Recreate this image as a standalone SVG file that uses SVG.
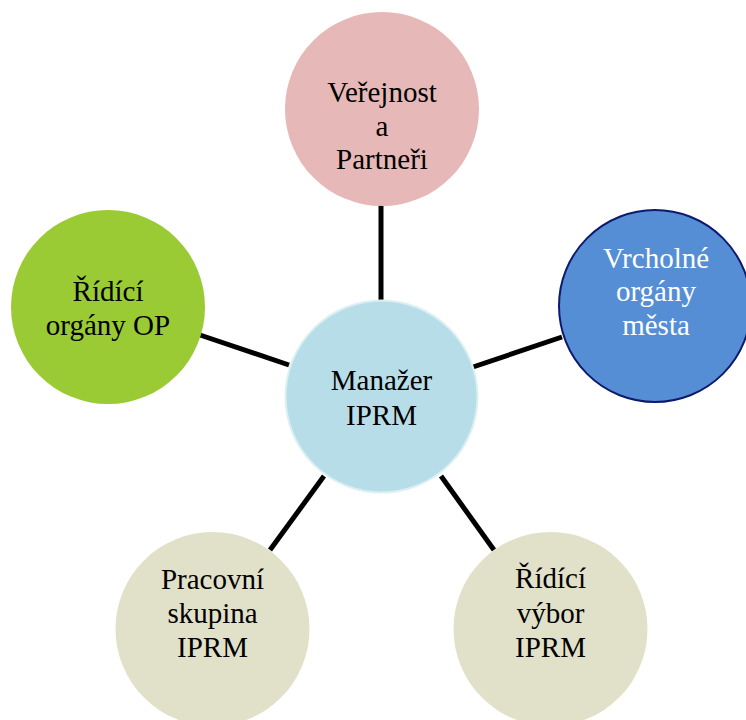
<svg xmlns="http://www.w3.org/2000/svg" width="746" height="720" viewBox="0 0 746 720">
<style>
.t text{font-size:29px;text-anchor:middle;fill:#000}
.t text.w{fill:#fff}
.conn line{stroke:#000;stroke-width:5}
</style>
<rect width="746" height="720" fill="#fff"/>
<g id="connectors" class="conn">
<line x1="381" y1="205" x2="381" y2="301"/>
<line x1="473" y1="367" x2="562" y2="337"/>
<line x1="200" y1="335" x2="289" y2="365"/>
<line x1="324" y1="476" x2="270" y2="550"/>
<line x1="441" y1="476" x2="494" y2="550"/>
</g>
<g class="t" font-family="Liberation Serif, Times New Roman, serif">
<g id="node-verejnost">
<circle cx="382" cy="109" r="97" fill="#E6B8B7"/>
<text x="382" y="102">Veřejnost</text>
<text x="382" y="136">a</text>
<text x="382" y="169">Partneři</text>
</g>
<g id="node-vrcholne">
<circle cx="655" cy="306" r="96" fill="#558ED5" stroke="#0E1A6E" stroke-width="2"/>
<text class="w" x="656" y="268">Vrcholné</text>
<text class="w" x="656" y="301">orgány</text>
<text class="w" x="656" y="335">města</text>
</g>
<g id="node-ridici-op">
<circle cx="108" cy="307" r="97" fill="#9ACB34"/>
<text x="108" y="301">Řídící</text>
<text x="108" y="335">orgány OP</text>
</g>
<g id="node-manazer">
<circle cx="381.5" cy="396.5" r="96" fill="#B7DEE8" stroke="#DCEFF3" stroke-width="2"/>
<text x="381.5" y="390">Manažer</text>
<text x="381.5" y="425">IPRM</text>
</g>
<g id="node-pracovni">
<circle cx="212.5" cy="629" r="97" fill="#E1E1CA"/>
<text x="212.5" y="589">Pracovní</text>
<text x="212.5" y="623">skupina</text>
<text x="212.5" y="657">IPRM</text>
</g>
<g id="node-ridici-vybor">
<circle cx="550.5" cy="629" r="97" fill="#E1E1CA"/>
<text x="550.5" y="588">Řídící</text>
<text x="550.5" y="623">výbor</text>
<text x="550.5" y="657">IPRM</text>
</g>
</g>
</svg>
